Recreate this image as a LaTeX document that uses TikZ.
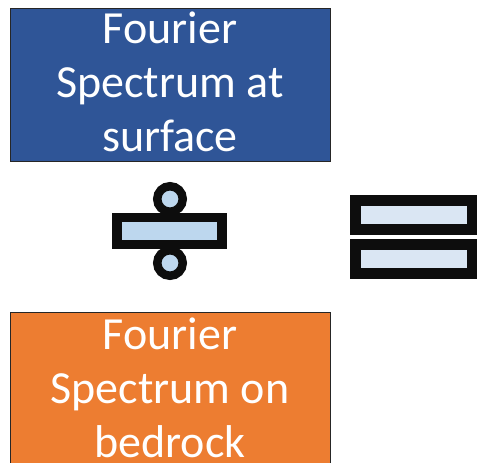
\documentclass[tikz,border=0pt]{standalone}
\usepackage{fontspec}
\setmainfont{Carlito}
\definecolor{boxblue}{HTML}{2F5597}
\definecolor{boxorange}{HTML}{ED7D31}
\definecolor{divfill}{HTML}{BDD7EE}
\definecolor{eqfill}{HTML}{DAE6F3}
\begin{document}
\begin{tikzpicture}[x=1pt,y=-1pt,
  spbox/.style={draw=black!85, line width=1pt, minimum width=320pt, inner sep=0pt, anchor=north west},
  sptext/.style={text=white, align=center, font=\fontsize{46}{54}\selectfont, inner sep=0pt},
  divpart/.style={draw=black!95, fill=divfill},
  eqpart/.style={draw=black!95, fill=eqfill, line width=11pt}]
\useasboundingbox (0,0) rectangle (477,463);
\clip (0,0) rectangle (477,463);
% top box
\node[spbox, fill=boxblue, minimum height=153pt] (top) at (10,8) {};
\node[sptext, anchor=base] (toptxt) at (170,151) {Fourier\\Spectrum at\\surface};
% bottom box
\node[spbox, fill=boxorange, minimum height=170pt] (bot) at (10,312) {};
\node[sptext, anchor=base] (bottxt) at (170,457) {Fourier\\Spectrum on\\bedrock};
% divide sign
\path[divpart, line width=8.5pt] (170,199) circle[radius=12.75] coordinate (dtop);
\path[divpart, line width=8.5pt] (170,263) circle[radius=12.75] coordinate (dbot);
\path[divpart, line width=9.5pt] (117,217.5) rectangle (222,244.5);
% equals sign
\path[eqpart] (355.5,200.5) rectangle (472,229.5);
\path[eqpart] (355.5,244.5) rectangle (472,273.5);
\end{tikzpicture}
\end{document}
